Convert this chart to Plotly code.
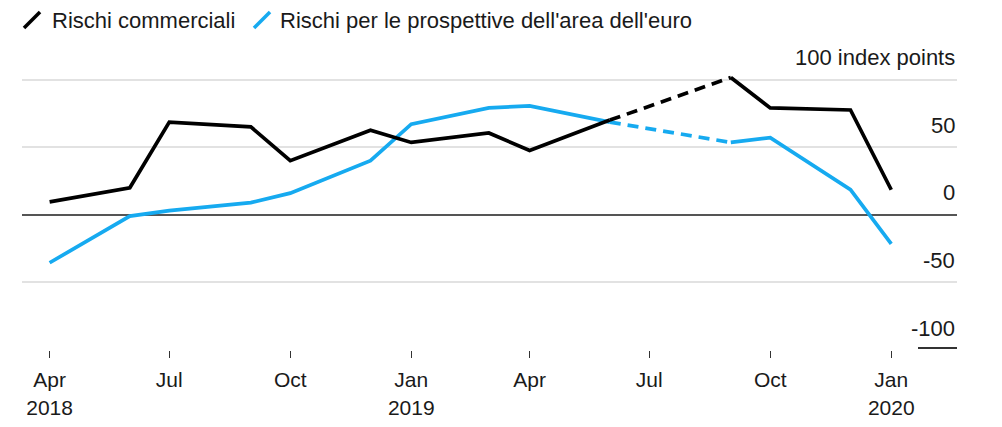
import plotly.graph_objects as go

# ---- data ----
dates = ["2018-04-01", "2018-06-01", "2018-07-01", "2018-09-01", "2018-10-01",
         "2018-12-01", "2019-01-01", "2019-03-01", "2019-04-01", "2019-06-01",
         "2019-09-01", "2019-10-01", "2019-12-01", "2020-01-01"]
rischi_commerciali = [9.5, 20, 68.5, 65, 40, 62.5, 53.5, 60.5, 47.5, 70,
                      101.5, 79, 77.5, 18.5]
rischi_euro = [-35.5, -1, 3, 9, 16, 40, 67, 79, 80.5, 68.5,
               53.5, 57, 18.5, -21.5]
gap_index = 9  # segment between dates[9] and dates[10] is dashed (no data)

series_names = ["Rischi commerciali", "Rischi per le prospettive dell'area dell'euro"]
tick_dates = ["2018-04-01", "2018-07-01", "2018-10-01", "2019-01-01",
              "2019-04-01", "2019-07-01", "2019-10-01", "2020-01-01"]
tick_labels = ["Apr<br>2018", "Jul", "Oct", "Jan<br>2019", "Apr", "Jul", "Oct", "Jan<br>2020"]
y_labels = {100: "100 index points", 50: "50", 0: "0", -50: "-50", -100: "-100"}

BLACK = "#000000"
BLUE = "#16aaf0"
FONT = "Liberation Sans, Arial, sans-serif"
TXT = "#1a1a1a"

fig = go.Figure()


def add_series(values, color):
    xs = dates[:gap_index + 1] + [None] + dates[gap_index + 1:]
    ys = values[:gap_index + 1] + [None] + values[gap_index + 1:]
    fig.add_trace(go.Scatter(x=xs, y=ys, mode="lines", connectgaps=False,
                             line=dict(color=color, width=3.7), showlegend=False,
                             hoverinfo="skip"))
    fig.add_trace(go.Scatter(x=dates[gap_index:gap_index + 2],
                             y=values[gap_index:gap_index + 2], mode="lines",
                             line=dict(color=color, width=3.7, dash="11px,7px"),
                             showlegend=False, hoverinfo="skip"))


add_series(rischi_euro, BLUE)
add_series(rischi_commerciali, BLACK)

# page body has an 8px margin; screen coords = figure coords + 8
OFF = 8
W, H = 1002, 427
PL, PR, PT, PB = 22, 957, 66, 350  # plot box in screen pixels
L, R, T, B = PL - OFF, W - (PR - OFF), PT - OFF, H - (PB - OFF)
pw, ph = PR - PL, PB - PT


def px_x(p):
    return (p - PL) / pw


def px_y(p):
    return (PB - p) / ph


# short axis line under -100 label
fig.add_shape(type="line", xref="paper", yref="paper", x0=px_x(918), x1=1,
              y0=px_y(348), y1=px_y(348), line=dict(color="#333333", width=2))

# y labels (right side, above gridlines)
for v, t in y_labels.items():
    fig.add_annotation(x=1, xref="paper", y=v, yref="y", text=t, showarrow=False,
                       xanchor="right", yanchor="middle", yshift=22,
                       font=dict(family=FONT, size=22, color=TXT))

# legend: slashes + text
legend_items = [(BLACK, 23, 52, series_names[0]), (BLUE, 253, 280, series_names[1])]
for color, sx, tx, name in legend_items:
    fig.add_shape(type="line", xref="paper", yref="paper",
                  x0=px_x(sx + 1), x1=px_x(sx + 17), y0=px_y(28), y1=px_y(12),
                  line=dict(color=color, width=3.5))
    fig.add_annotation(x=px_x(tx), xref="paper", y=px_y(20), yref="paper", text=name,
                       showarrow=False, xanchor="left", yanchor="middle", xshift=-2,
                       font=dict(family=FONT, size=22, color=TXT))

fig.update_layout(
    width=W, height=H,
    margin=dict(l=L, r=R, t=T, b=B),
    paper_bgcolor="white", plot_bgcolor="white",
    font=dict(family=FONT, size=21, color=TXT),
    xaxis=dict(range=["2018-03-11", "2020-02-20"], tickvals=tick_dates, ticktext=tick_labels,
               ticks="outside", ticklen=7, tickwidth=1, tickcolor="#333333",
               ticklabelstandoff=4,
               showgrid=False, showline=False, zeroline=False,
               tickfont=dict(family=FONT, size=21, color=TXT)),
    yaxis=dict(range=[-100, 110], tickvals=[-50, 50, 100], showticklabels=False,
               showgrid=True, gridcolor="#e2e2e2", gridwidth=1.5,
               zeroline=True, zerolinecolor="#555555", zerolinewidth=1.5,
               showline=False, ticks=""),
)

fig.write_html("out.html")
